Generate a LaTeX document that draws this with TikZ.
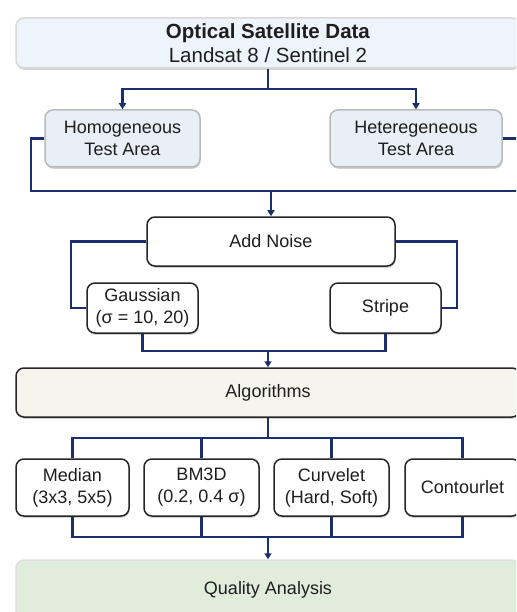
\documentclass[tikz,border=0pt]{standalone}
\usepackage{fontspec}
\setmainfont{Liberation Sans}
\usetikzlibrary{shadows,arrows.meta}
\definecolor{navy}{HTML}{1B2F6E}
\definecolor{txt}{HTML}{1E1E1E}
\definecolor{topfill}{HTML}{EEF4FB}
\definecolor{areafill}{HTML}{E8EFF7}
\definecolor{algfill}{HTML}{F5F5EE}
\definecolor{qafill}{HTML}{E1EDDB}
\tikzset{
  conn/.style={draw=navy, line width=2.2pt},
  arr/.style={conn, -{Triangle[length=6pt,width=7pt]}},
  boxbase/.style={rectangle, rounded corners=8pt, align=center, text=txt,
     font=\fontsize{18}{22}\selectfont, inner sep=0pt},
  whitebox/.style={boxbase, fill=white, draw=black!85, line width=1.5pt,
     drop shadow={shadow xshift=0.6pt, shadow yshift=-1.8pt, opacity=0.35}},
  areabox/.style={boxbase, fill=areafill, draw=gray!55, line width=1.5pt,
     drop shadow={shadow xshift=0.6pt, shadow yshift=-1.8pt, opacity=0.35}},
  bandbox/.style={boxbase, line width=1.5pt,
     drop shadow={shadow xshift=0.6pt, shadow yshift=-1.8pt, opacity=0.35}},
}
\begin{document}
\begin{tikzpicture}[x=1pt,y=-1pt]
\useasboundingbox (0,0) rectangle (516,612);
\clip (0,0) rectangle (516,612);
\fill[white] (0,0) rectangle (516,612);

% nodes
\node[bandbox, fill=topfill, draw=gray!30, minimum width=504pt, minimum height=50pt,
      font=\fontsize{20.5}{24}\selectfont] (top) at (268,43)
      {\textbf{Optical Satellite Data}\\Landsat 8 / Sentinel 2};
\node[areabox, minimum width=155pt, minimum height=57pt] (hom) at (122.5,138.5) {Homogeneous\\Test Area};
\node[areabox, minimum width=172pt, minimum height=57pt] (het) at (416,138.5) {Heteregeneous\\Test Area};
\node[whitebox, minimum width=248pt, minimum height=49pt] (noise) at (271,241.5) {Add Noise};
\node[whitebox, minimum width=111pt, minimum height=50pt] (gauss) at (142.5,308) {Gaussian\\(σ = 10, 20)};
\node[whitebox, minimum width=111pt, minimum height=50pt] (stripe) at (385.5,308) {Stripe};
\node[bandbox, fill=algfill, draw=black!85, minimum width=504pt, minimum height=49pt] (alg) at (268,392.5) {Algorithms};
\node[whitebox, minimum width=113pt, minimum height=57pt] (median) at (72.5,487.5) {Median\\(3x3, 5x5)};
\node[whitebox, minimum width=115pt, minimum height=57pt] (bm3d) at (201.5,487.5) {BM3D\\(0.2, 0.4 σ)};
\node[whitebox, minimum width=115pt, minimum height=57pt] (curv) at (331.5,487.5) {Curvelet\\(Hard, Soft)};
\node[whitebox, minimum width=115pt, minimum height=57pt] (cont) at (462.5,487.5) {Contourlet};
\node[bandbox, fill=qafill, draw=gray!25, minimum width=504pt, minimum height=60pt] (qa) at (268,590) {};
\node[text=txt, font=\fontsize{18}{22}\selectfont] (qat) at (268,590) {Quality Analysis};

% junction coordinates
\coordinate (j1) at (268,89);
\coordinate (j2) at (271,191);
\coordinate (j3) at (268,351);
\coordinate (j4) at (268,438);
\coordinate (j5) at (268,537);

% connectors
\draw[conn] (top.south) -- (j1);
\draw[arr] (j1) -| (hom.north);
\draw[arr] (j1) -| (het.north);
\draw[conn] (hom.west) -- (31,138.5) |- (j2);
\draw[conn] (het.east) -- (522,138.5) |- (j2);
\draw[arr] (j2) -- (noise.north);
\draw[conn] (noise.west) -- (71,241.5) |- (gauss.west);
\draw[conn] (noise.east) -- (457,241.5) |- (stripe.east);
\draw[conn] (gauss.south) |- (j3);
\draw[conn] (stripe.south) |- (j3);
\draw[arr] (j3) -- (alg.north);
\draw[conn] (alg.south) -- (j4);
\draw[conn] (j4) -| (median.north);
\draw[conn] (j4) -| (bm3d.north);
\draw[conn] (j4) -| (curv.north);
\draw[conn] (j4) -| (cont.north);
\draw[conn] (median.south) |- (j5);
\draw[conn] (bm3d.south) |- (j5);
\draw[conn] (curv.south) |- (j5);
\draw[conn] (cont.south) |- (j5);
\draw[arr] (j5) -- (qa.north);
\end{tikzpicture}
\end{document}
